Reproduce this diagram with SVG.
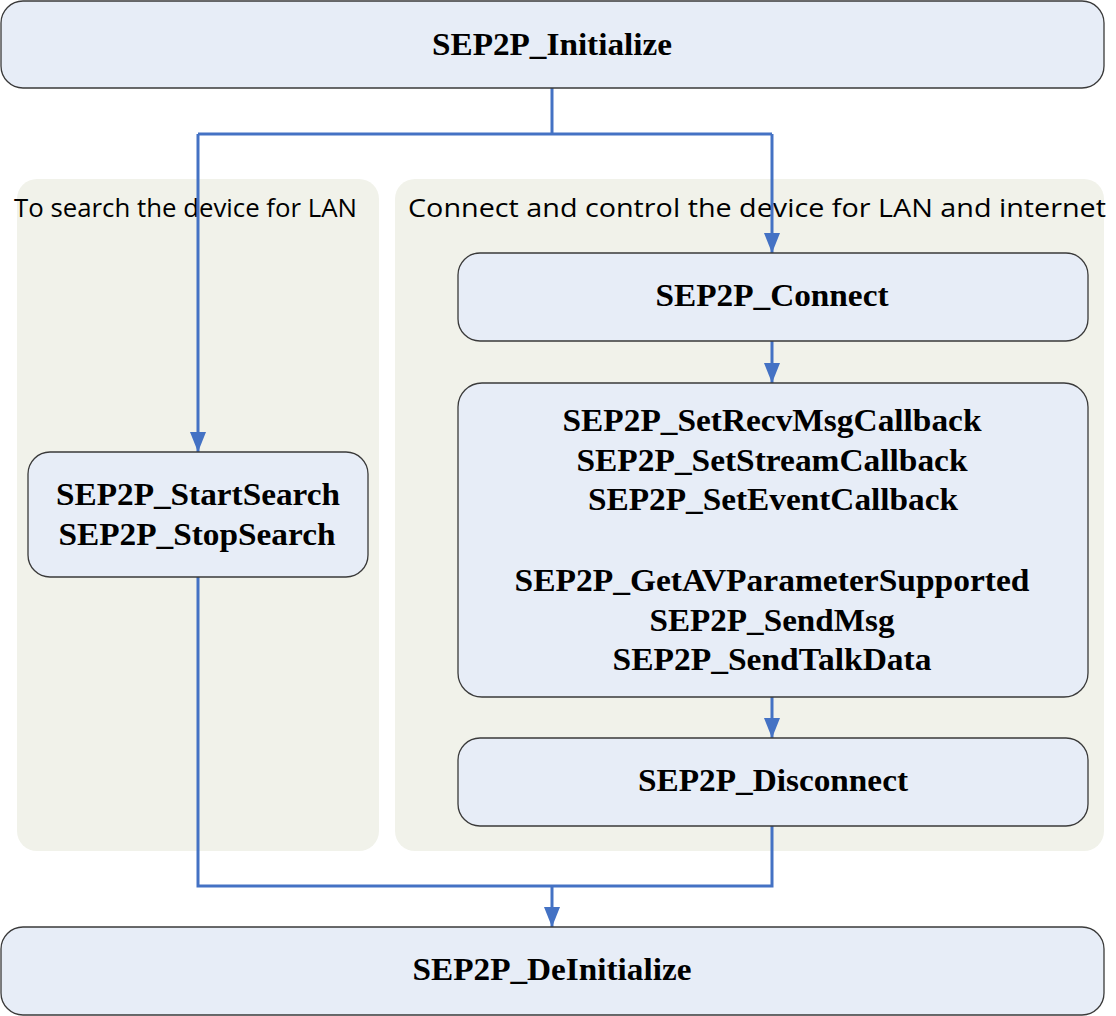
<svg xmlns="http://www.w3.org/2000/svg" width="1116" height="1016" viewBox="0 0 1116 1016">
<style>
.panel{fill:#f1f2ea;}
.node{fill:#e7edf7;stroke:#3a3a3a;stroke-width:1.3;}
.lbl{font-family:"Liberation Serif","Times New Roman",serif;font-weight:bold;font-size:31px;fill:#000;text-anchor:middle;}
.plbl{font-family:"Open Sans","Liberation Sans",sans-serif;font-size:26px;fill:#000;}
.conn{fill:none;stroke:#4472c4;stroke-width:3;}
</style>
<defs>
<marker id="arr" viewBox="0 0 20 16" refX="20" refY="8" markerWidth="20" markerHeight="16" markerUnits="userSpaceOnUse" orient="auto">
<path d="M0,0 L20,8 L0,16 Z" fill="#4472c4"/>
</marker>
</defs>
<g id="panel-search">
<rect class="panel" x="17" y="179" width="362" height="672" rx="20"/>
<text class="plbl" x="14" y="217" textLength="343" lengthAdjust="spacingAndGlyphs">To search the device for LAN</text>
</g>
<g id="panel-connect">
<rect class="panel" x="395" y="179" width="709" height="672" rx="20"/>
<text class="plbl" x="408" y="217" textLength="698" lengthAdjust="spacingAndGlyphs">Connect and control the device for LAN and internet</text>
</g>
<g id="connectors">
<path class="conn" d="M552,88 L552,134"/>
<path class="conn" d="M198,134 L772,134"/>
<path class="conn" d="M198,134 L198,452" marker-end="url(#arr)"/>
<path class="conn" d="M772,134 L772,253" marker-end="url(#arr)"/>
<path class="conn" d="M772,341 L772,383" marker-end="url(#arr)"/>
<path class="conn" d="M772,697 L772,738" marker-end="url(#arr)"/>
<path class="conn" d="M198,577 L198,886 L772,886 L772,826"/>
<path class="conn" d="M552,886 L552,927" marker-end="url(#arr)"/>
</g>
<g id="node-initialize">
<rect class="node" x="1" y="1" width="1103" height="87" rx="22"/>
<text class="lbl" x="552" y="55" textLength="240" lengthAdjust="spacingAndGlyphs">SEP2P_Initialize</text>
</g>
<g id="node-connect">
<rect class="node" x="458" y="253" width="630" height="88" rx="22"/>
<text class="lbl" x="772" y="306" textLength="233" lengthAdjust="spacingAndGlyphs">SEP2P_Connect</text>
</g>
<g id="node-calls">
<rect class="node" x="458" y="383" width="630" height="314" rx="24"/>
<text class="lbl" x="772" y="431" textLength="419" lengthAdjust="spacingAndGlyphs">SEP2P_SetRecvMsgCallback</text>
<text class="lbl" x="772" y="471" textLength="391" lengthAdjust="spacingAndGlyphs">SEP2P_SetStreamCallback</text>
<text class="lbl" x="773" y="510" textLength="370" lengthAdjust="spacingAndGlyphs">SEP2P_SetEventCallback</text>
<text class="lbl" x="772" y="591" textLength="515" lengthAdjust="spacingAndGlyphs">SEP2P_GetAVParameterSupported</text>
<text class="lbl" x="772" y="631" textLength="245" lengthAdjust="spacingAndGlyphs">SEP2P_SendMsg</text>
<text class="lbl" x="772" y="670" textLength="319" lengthAdjust="spacingAndGlyphs">SEP2P_SendTalkData</text>
</g>
<g id="node-search">
<rect class="node" x="28" y="452" width="340" height="125" rx="22"/>
<text class="lbl" x="198" y="505" textLength="284" lengthAdjust="spacingAndGlyphs">SEP2P_StartSearch</text>
<text class="lbl" x="197" y="545" textLength="277" lengthAdjust="spacingAndGlyphs">SEP2P_StopSearch</text>
</g>
<g id="node-disconnect">
<rect class="node" x="458" y="738" width="630" height="88" rx="22"/>
<text class="lbl" x="773" y="791" textLength="270" lengthAdjust="spacingAndGlyphs">SEP2P_Disconnect</text>
</g>
<g id="node-deinitialize">
<rect class="node" x="1" y="927" width="1103" height="88" rx="22"/>
<text class="lbl" x="552" y="980" textLength="279" lengthAdjust="spacingAndGlyphs">SEP2P_DeInitialize</text>
</g>
</svg>
